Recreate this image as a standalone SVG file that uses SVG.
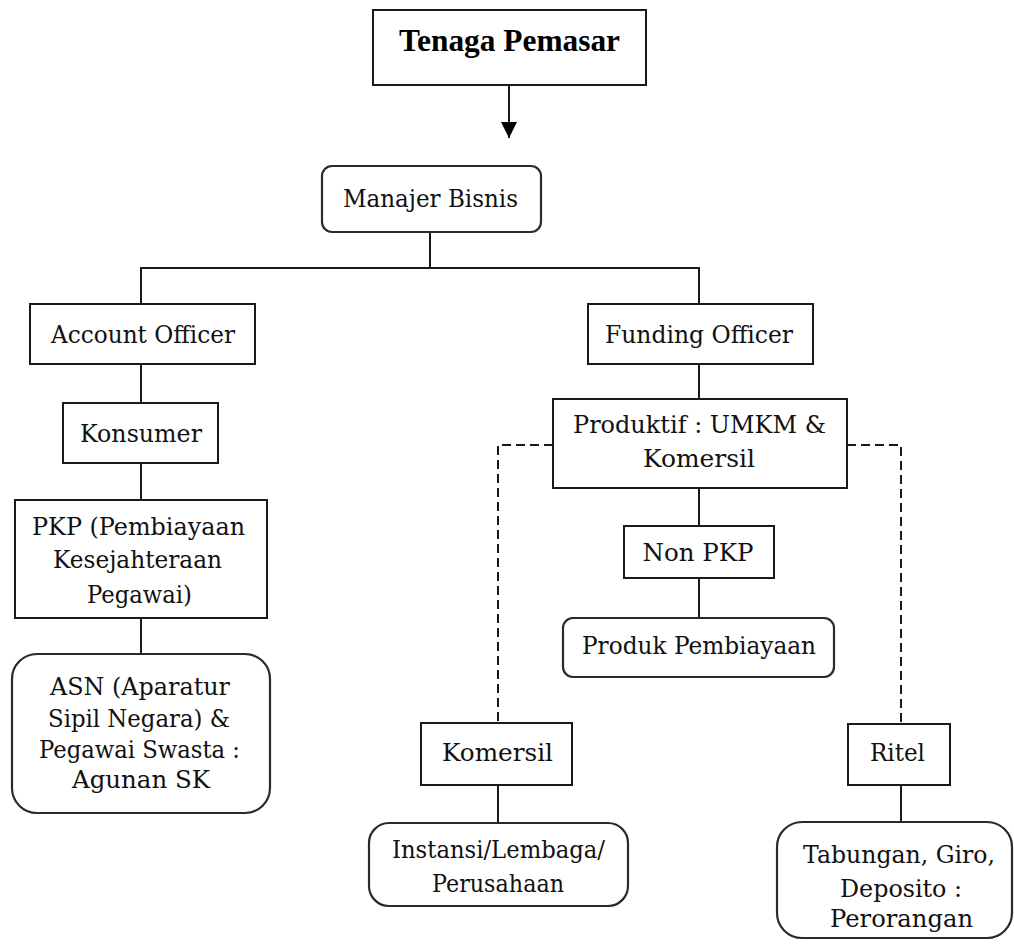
<svg xmlns="http://www.w3.org/2000/svg" width="1014" height="945" viewBox="0 0 1014 945">
  <style>
    .box { fill: #fff; stroke: #1a1a1a; stroke-width: 2; }
    .rbox { fill: #fff; stroke: #2a2a2a; stroke-width: 2.2; }
    .lbl { font-family: "DejaVu Serif", "Liberation Serif", serif; font-size: 24px; fill: #111; text-anchor: middle; }
    .title { font-family: "Liberation Serif", "Times New Roman", serif; font-size: 32px; font-weight: bold; fill: #000; text-anchor: middle; }
    .link { fill: none; stroke: #1a1a1a; stroke-width: 2; }
    .dash { fill: none; stroke: #1a1a1a; stroke-width: 2; stroke-dasharray: 9 5; }
  </style>
  <defs>
    <marker id="arrow" viewBox="0 0 10 10" refX="10" refY="5" markerWidth="8" markerHeight="8" markerUnits="strokeWidth" orient="auto">
      <path d="M0,0 L10,5 L0,10 z" fill="#000"/>
    </marker>
  </defs>
  <rect width="1014" height="945" fill="#fff"/>

  <!-- connectors -->
  <g id="connectors">
    <line class="link" x1="509" y1="85" x2="509" y2="138" marker-end="url(#arrow)"/>
    <polyline class="link" points="430,232 430,268"/>
    <polyline class="link" points="141,304 141,268 699,268 699,304"/>
    <line class="link" x1="141" y1="364" x2="141" y2="403"/>
    <line class="link" x1="141" y1="463" x2="141" y2="500"/>
    <line class="link" x1="141" y1="618" x2="141" y2="654"/>
    <line class="link" x1="699" y1="364" x2="699" y2="399"/>
    <line class="link" x1="699" y1="488" x2="699" y2="526"/>
    <line class="link" x1="699" y1="578" x2="699" y2="618"/>
    <polyline class="dash" points="553,445 498,445 498,723"/>
    <polyline class="dash" points="847,445 901,445 901,724"/>
    <line class="link" x1="498" y1="785" x2="498" y2="823"/>
    <line class="link" x1="901" y1="785" x2="901" y2="822"/>
  </g>

  <!-- top heading -->
  <g id="tenaga-pemasar">
    <rect class="box" x="373" y="10" width="273" height="75"/>
    <text class="title" x="509.5" y="51" textLength="221" lengthAdjust="spacingAndGlyphs">Tenaga Pemasar</text>
  </g>

  <g id="manajer-bisnis">
    <rect class="rbox" x="322" y="166" width="219" height="66" rx="10"/>
    <text class="lbl" x="430.5" y="207" textLength="175" lengthAdjust="spacingAndGlyphs">Manajer Bisnis</text>
  </g>

  <!-- left branch -->
  <g id="account-officer">
    <rect class="box" x="30" y="304" width="225" height="60"/>
    <text class="lbl" x="143" y="343" textLength="184" lengthAdjust="spacingAndGlyphs">Account Officer</text>
  </g>

  <g id="konsumer">
    <rect class="box" x="63" y="403" width="155" height="60"/>
    <text class="lbl" x="141" y="442" textLength="122" lengthAdjust="spacingAndGlyphs">Konsumer</text>
  </g>

  <g id="pkp">
    <rect class="box" x="15" y="500" width="252" height="118"/>
    <text class="lbl" x="138.5" y="535" textLength="213" lengthAdjust="spacingAndGlyphs">PKP (Pembiayaan</text>
    <text class="lbl" x="137.5" y="568" textLength="169" lengthAdjust="spacingAndGlyphs">Kesejahteraan</text>
    <text class="lbl" x="139.5" y="603" textLength="105" lengthAdjust="spacingAndGlyphs">Pegawai)</text>
  </g>

  <g id="asn">
    <rect class="rbox" x="12" y="654" width="258" height="159" rx="25"/>
    <text class="lbl" x="140" y="695" textLength="180" lengthAdjust="spacingAndGlyphs">ASN (Aparatur</text>
    <text class="lbl" x="139" y="727" textLength="182" lengthAdjust="spacingAndGlyphs">Sipil Negara) &amp;</text>
    <text class="lbl" x="139.5" y="758" textLength="201" lengthAdjust="spacingAndGlyphs">Pegawai Swasta :</text>
    <text class="lbl" x="141" y="788" textLength="138" lengthAdjust="spacingAndGlyphs">Agunan SK</text>
  </g>

  <!-- right branch -->
  <g id="funding-officer">
    <rect class="box" x="588" y="304" width="225" height="60"/>
    <text class="lbl" x="699" y="343" textLength="188" lengthAdjust="spacingAndGlyphs">Funding Officer</text>
  </g>

  <g id="produktif">
    <rect class="box" x="553" y="399" width="294" height="89"/>
    <text class="lbl" x="699.5" y="433" textLength="253" lengthAdjust="spacingAndGlyphs">Produktif : UMKM &amp;</text>
    <text class="lbl" x="699" y="467" textLength="112" lengthAdjust="spacingAndGlyphs">Komersil</text>
  </g>

  <g id="non-pkp">
    <rect class="box" x="624" y="526" width="150" height="52"/>
    <text class="lbl" x="698" y="561" textLength="111" lengthAdjust="spacingAndGlyphs">Non PKP</text>
  </g>

  <g id="produk-pembiayaan">
    <rect class="rbox" x="563" y="618" width="271" height="59" rx="10"/>
    <text class="lbl" x="699" y="654" textLength="234" lengthAdjust="spacingAndGlyphs">Produk Pembiayaan</text>
  </g>

  <g id="komersil">
    <rect class="box" x="421" y="723" width="151" height="62"/>
    <text class="lbl" x="497.5" y="761" textLength="111" lengthAdjust="spacingAndGlyphs">Komersil</text>
  </g>

  <g id="instansi">
    <rect class="rbox" x="369" y="823" width="259" height="83" rx="20"/>
    <text class="lbl" x="498.5" y="858" textLength="213" lengthAdjust="spacingAndGlyphs">Instansi/Lembaga/</text>
    <text class="lbl" x="498" y="892" textLength="132" lengthAdjust="spacingAndGlyphs">Perusahaan</text>
  </g>

  <g id="ritel">
    <rect class="box" x="848" y="724" width="102" height="61"/>
    <text class="lbl" x="897.5" y="761" textLength="55" lengthAdjust="spacingAndGlyphs">Ritel</text>
  </g>

  <g id="tabungan">
    <rect class="rbox" x="777" y="822" width="235" height="116" rx="25"/>
    <text class="lbl" x="899" y="863" textLength="192" lengthAdjust="spacingAndGlyphs">Tabungan, Giro,</text>
    <text class="lbl" x="901" y="897" textLength="122" lengthAdjust="spacingAndGlyphs">Deposito :</text>
    <text class="lbl" x="901.5" y="927" textLength="143" lengthAdjust="spacingAndGlyphs">Perorangan</text>
  </g>
</svg>
